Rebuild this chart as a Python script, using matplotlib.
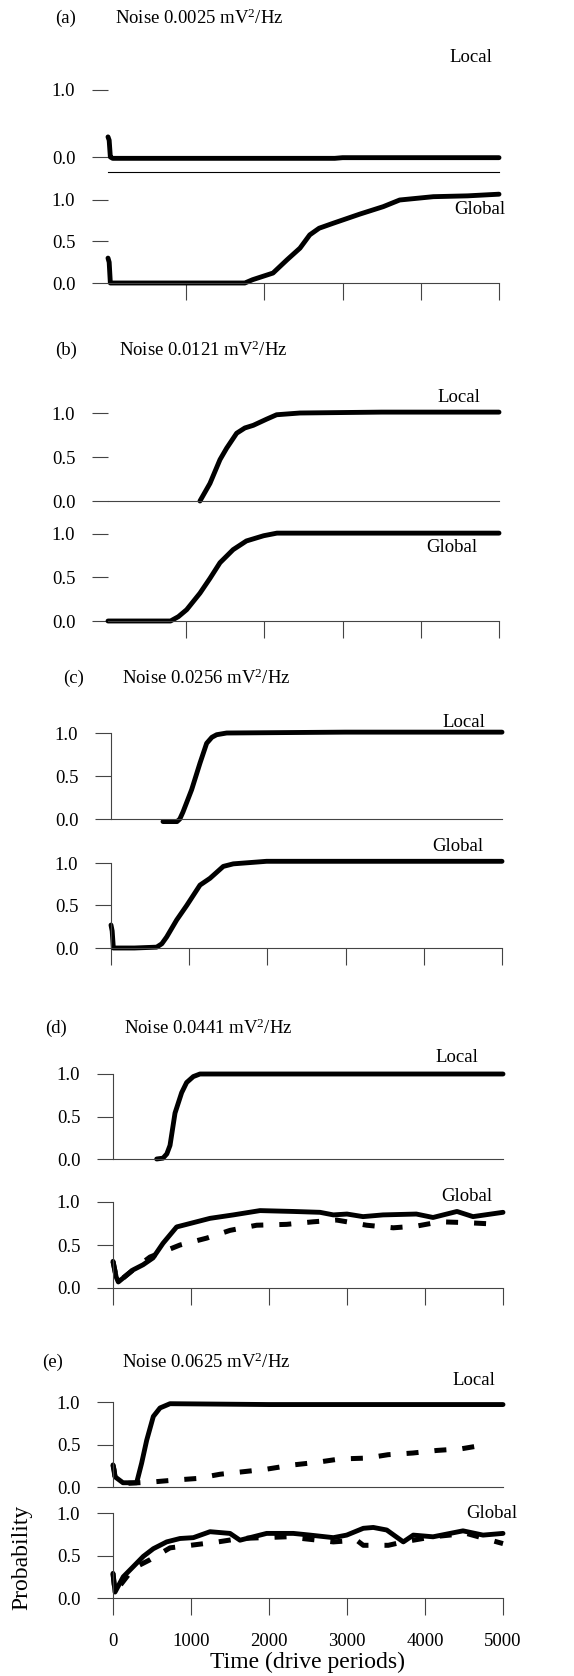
import matplotlib.pyplot as plt

plt.rcParams['font.family'] = ['Liberation Serif', 'DejaVu Serif']
plt.rcParams['mathtext.fontset'] = 'custom'
plt.rcParams['mathtext.rm'] = 'Liberation Serif'
plt.rcParams['mathtext.it'] = 'Liberation Serif:italic'

# ---- data (time in drive periods, probability) ----
a_local_t = [0, 15, 30, 60, 1000, 2000, 2900, 3000, 4000, 5000]
a_local_p = [0.30, 0.25, 0.0, -0.02, -0.02, -0.02, -0.02, -0.01, -0.01, -0.01]
a_global_t = [0, 15, 30, 500, 1000, 1500, 1750, 1850, 2110, 2290, 2455, 2580,
              2700, 2880, 3220, 3520, 3730, 4160, 4600, 5000]
a_global_p = [0.30, 0.25, 0.0, 0.0, 0.0, 0.0, 0.0, 0.04, 0.12, 0.28, 0.42, 0.58,
              0.66, 0.72, 0.83, 0.92, 1.0, 1.04, 1.05, 1.07]

b_local_t = [1176, 1304, 1432, 1517, 1645, 1750, 1858, 2028, 2156, 2455, 3500, 5000]
b_local_p = [0.0, 0.2, 0.47, 0.6, 0.77, 0.83, 0.86, 0.93, 0.98, 1.0, 1.01, 1.01]
b_global_t = [0, 400, 800, 900, 1006, 1176, 1304, 1432, 1600, 1770, 1990, 2160, 3500, 5000]
b_global_p = [0.0, 0.0, 0.0, 0.05, 0.13, 0.32, 0.49, 0.67, 0.82, 0.92, 0.98, 1.01, 1.01, 1.01]

c_local_t = [665, 844, 880, 920, 1031, 1138, 1223, 1290, 1351, 1479, 3000, 5000]
c_local_p = [-0.03, -0.03, 0.0, 0.08, 0.34, 0.65, 0.88, 0.95, 0.98, 1.0, 1.01, 1.01]
c_global_t = [0, 15, 30, 300, 584, 650, 712, 840, 968, 1138, 1266, 1436, 1564, 1990, 3500, 5000]
c_global_p = [0.27, 0.2, 0.0, 0.0, 0.01, 0.05, 0.13, 0.33, 0.5, 0.74, 0.82, 0.96, 0.99, 1.02, 1.02, 1.02]

d_local_t = [560, 641, 690, 731, 795, 880, 944, 1030, 1115, 3000, 5000]
d_local_p = [0.0, 0.01, 0.06, 0.16, 0.54, 0.78, 0.9, 0.97, 1.0, 1.0, 1.0]
d_global_t = [0, 25, 40, 68, 256, 385, 513, 641, 816, 1030, 1244, 1543, 1885, 2312,
              2654, 2825, 3000, 3205, 3462, 3889, 4103, 4410, 4615, 5000]
d_global_p = [0.31, 0.2, 0.13, 0.07, 0.21, 0.27, 0.35, 0.52, 0.71, 0.76, 0.81, 0.85, 0.9, 0.89,
              0.88, 0.85, 0.86, 0.83, 0.85, 0.86, 0.82, 0.89, 0.83, 0.88]
d_global2_t = [0, 40, 68, 256, 474, 859, 1201, 1500, 1842, 2226, 2568, 2868, 3252,
               3594, 3893, 4192, 4534, 4962]
d_global2_p = [0.31, 0.13, 0.07, 0.21, 0.36, 0.5, 0.58, 0.67, 0.73, 0.74, 0.77, 0.79, 0.73,
               0.7, 0.72, 0.77, 0.76, 0.74]

e_local_t = [0, 15, 26, 128, 303, 367, 432, 517, 603, 731, 2000, 3500, 5000]
e_local_p = [0.26, 0.2, 0.12, 0.05, 0.05, 0.28, 0.55, 0.83, 0.93, 0.98, 0.97, 0.97, 0.97]
e_local2_t = [0, 26, 128, 517, 769, 1073, 1372, 1671, 1970, 2312, 2611, 2910, 3252,
              3526, 3846, 4150, 4470, 4791]
e_local2_p = [0.26, 0.12, 0.04, 0.06, 0.08, 0.1, 0.15, 0.18, 0.21, 0.26, 0.29, 0.33, 0.34,
              0.38, 0.4, 0.43, 0.45, 0.5]
e_global_t = [0, 26, 132, 261, 389, 517, 688, 859, 1030, 1244, 1500, 1628, 1970, 2312,
              2526, 2825, 2996, 3209, 3337, 3509, 3722, 3850, 4103, 4487, 4744, 5000]
e_global_p = [0.29, 0.07, 0.25, 0.37, 0.49, 0.58, 0.66, 0.7, 0.71, 0.78, 0.76, 0.68, 0.76, 0.76,
              0.74, 0.71, 0.74, 0.82, 0.83, 0.8, 0.66, 0.74, 0.72, 0.79, 0.74, 0.76]
e_global2_t = [0, 26, 261, 474, 731, 1346, 1628, 2226, 2526, 2825, 3124, 3209, 3530,
               3722, 4103, 4530, 5000]
e_global2_p = [0.29, 0.07, 0.35, 0.45, 0.59, 0.66, 0.7, 0.72, 0.69, 0.66, 0.68, 0.62, 0.62,
               0.66, 0.72, 0.76, 0.64]

titles = ['(a)', '(b)', '(c)', '(d)', '(e)']
noise = ['0.0025', '0.0121', '0.0256', '0.0441', '0.0625']
xticks = [0, 1000, 2000, 3000, 4000, 5000]

W, H = 574, 1676
fig = plt.figure(figsize=(W / 100, H / 100), dpi=100)
AX_COL = '#444444'
FS = 13.5


def add_panel(x0, x1, y0, y1, ymin=0.0, left_spine=True):
    # x0/x1: pixel of t=0 / t=5000, y0/y1: pixel of p=0 / p=1
    ppu = y0 - y1
    bottom = y0 - ymin * ppu
    ax = fig.add_axes([x0 / W, 1 - bottom / H, (x1 - x0) / W, (bottom - y1) / H])
    ax.set_xlim(0, 5000)
    ax.set_ylim(ymin, 1.0)
    ax.patch.set_visible(False)
    ax.spines[['top', 'right']].set_visible(False)
    ax.spines['left'].set_visible(left_spine)
    for s in ('left', 'bottom'):
        ax.spines[s].set_color(AX_COL)
        ax.spines[s].set_linewidth(0.8)
    ax.set_yticks([0, 0.5, 1.0], ['0.0', '0.5', '1.0'])
    ax.tick_params(axis='y', direction='out', length=11.5, width=0.8, color=AX_COL,
                   pad=12, labelsize=FS)
    ax.tick_params(axis='x', direction='out', length=12, width=0.8, color=AX_COL,
                   pad=13, labelsize=FS)
    return ax


def curve(ax, t, p, dashed=False):
    if dashed:
        ax.plot(t, p, color='black', lw=3.6, dashes=(2.4, 3.2), clip_on=False)
    else:
        ax.plot(t, p, color='black', lw=3.5, solid_capstyle='round',
                solid_joinstyle='round', clip_on=False)


def label(x, y, s):
    fig.text(x / W, 1 - y / H, s, ha='right', va='center', fontsize=FS)


# (a)
ax = add_panel(108, 499, 157, 90, ymin=-0.224, left_spine=False)
ax.set_yticks([0, 1.0], ['0.0', '1.0'])
ax.set_xticks([])
ax.spines['bottom'].set_color('black')
curve(ax, a_local_t, a_local_p)
ax = add_panel(108, 499, 283, 200, left_spine=False)
ax.set_xticks(xticks[1:], [''] * 5)
curve(ax, a_global_t, a_global_p)

# (b)
ax = add_panel(108, 499, 501, 413, left_spine=False)
ax.set_xticks([])
curve(ax, b_local_t, b_local_p)
ax = add_panel(108, 499, 621, 534, left_spine=False)
ax.set_xticks(xticks[1:], [''] * 5)
curve(ax, b_global_t, b_global_p)

# (c)
ax = add_panel(111, 502, 819, 733)
ax.set_xticks([])
curve(ax, c_local_t, c_local_p)
ax = add_panel(111, 502, 948, 863)
ax.set_xticks(xticks, [''] * 6)
curve(ax, c_global_t, c_global_p)

# (d)
ax = add_panel(113, 503, 1159, 1074)
ax.set_xticks([])
curve(ax, d_local_t, d_local_p)
ax = add_panel(113, 503, 1288, 1202)
ax.set_xticks(xticks, [''] * 6)
curve(ax, d_global2_t, d_global2_p, dashed=True)
curve(ax, d_global_t, d_global_p)

# (e)
ax = add_panel(113, 503, 1487, 1402)
ax.set_xticks([])
curve(ax, e_local2_t, e_local2_p, dashed=True)
curve(ax, e_local_t, e_local_p)
ax = add_panel(113, 503, 1598, 1513)
ax.set_xticks(xticks, [str(v) for v in xticks])
curve(ax, e_global2_t, e_global2_p, dashed=True)
curve(ax, e_global_t, e_global_p)

# panel titles
title_pos = [(55, 115, 18), (55, 119, 350), (63, 122, 678), (45, 124, 1028), (42, 122, 1362)]
for (xl, xn, yc), tag, nz in zip(title_pos, titles, noise):
    fig.text(xl / W, 1 - yc / H, tag, ha='left', va='center', fontsize=FS)
    fig.text(xn / W, 1 - (yc + 6) / H, 'Noise ' + nz + r' mV$^{2}$/Hz',
             ha='left', va='baseline', fontsize=FS)

# Local / Global labels
label(492, 58, 'Local')
label(505, 209, 'Global')
label(480, 397, 'Local')
label(477, 548, 'Global')
label(485, 722, 'Local')
label(483, 846, 'Global')
label(478, 1057, 'Local')
label(492, 1196, 'Global')
label(495, 1380, 'Local')
label(517, 1513, 'Global')

fig.text(307 / W, 1 - 1662 / H, 'Time (drive periods)', ha='center', va='center', fontsize=17)
fig.text(22 / W, 1 - 1557 / H, 'Probability', ha='center', va='center',
         rotation=90, fontsize=17)

fig.savefig('out.png', dpi=100)
